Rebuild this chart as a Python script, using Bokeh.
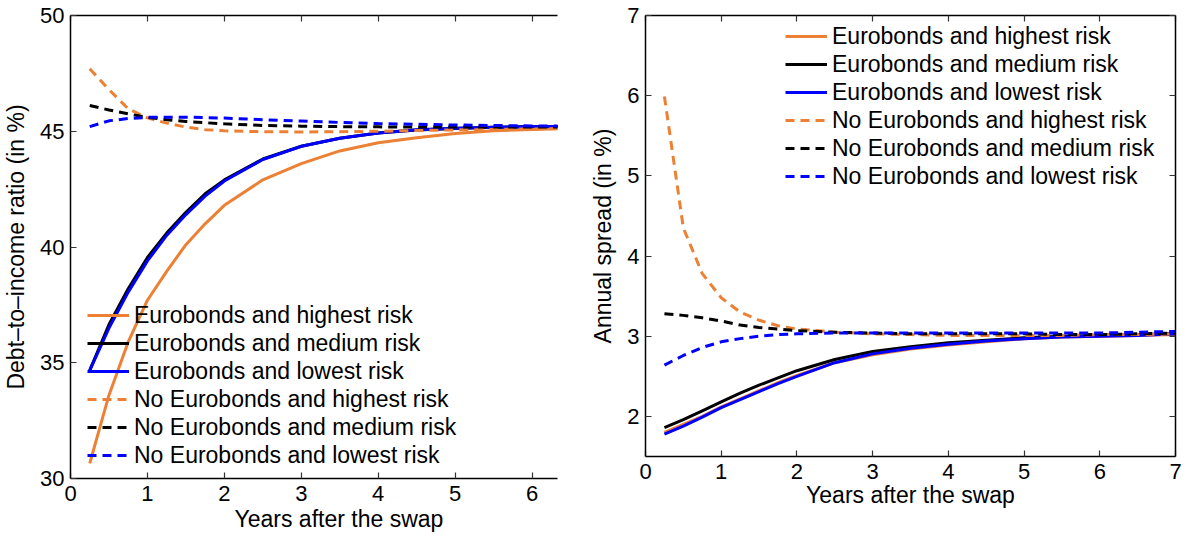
from bokeh.plotting import figure
from bokeh.models import LinearAxis, Range1d, Legend, LegendItem, FixedTicker, Title
from bokeh.layouts import row, column
from bokeh.embed import file_html
from bokeh.resources import INLINE

# ---------------- data ----------------
years = [0.25, 0.5, 0.75, 1.0, 1.25, 1.5, 1.75, 2.0, 2.5, 3.0, 3.5, 4.0, 4.5, 5.0, 5.5, 6.0, 6.5, 7.0]

labels = ["Eurobonds and highest risk", "Eurobonds and medium risk", "Eurobonds and lowest risk",
          "No Eurobonds and highest risk", "No Eurobonds and medium risk", "No Eurobonds and lowest risk"]

# Debt-to-income ratio (in %)
debt_euro_high = [30.65, 33.6, 35.9, 37.7, 38.95, 40.1, 41.0, 41.8, 42.9, 43.6, 44.15, 44.5, 44.72, 44.9, 45.02, 45.08, 45.12, 45.15]
debt_euro_med = [34.67, 36.65, 38.2, 39.55, 40.6, 41.5, 42.3, 42.9, 43.8, 44.35, 44.7, 44.92, 45.05, 45.12, 45.17, 45.2, 45.2, 45.2]
debt_euro_low = [34.67, 36.5, 38.05, 39.4, 40.5, 41.4, 42.2, 42.85, 43.78, 44.35, 44.7, 44.92, 45.06, 45.13, 45.17, 45.2, 45.2, 45.2]
debt_noeuro_high = [47.7, 46.8, 45.97, 45.58, 45.35, 45.18, 45.07, 45.02, 44.98, 44.97, 44.98, 45.0, 45.03, 45.06, 45.08, 45.1, 45.12, 45.13]
debt_noeuro_med = [46.11, 45.92, 45.75, 45.6, 45.5, 45.42, 45.37, 45.32, 45.25, 45.22, 45.2, 45.19, 45.18, 45.18, 45.18, 45.18, 45.18, 45.18]
debt_noeuro_low = [45.2, 45.45, 45.55, 45.6, 45.61, 45.61, 45.59, 45.57, 45.5, 45.44, 45.38, 45.33, 45.3, 45.27, 45.25, 45.23, 45.22, 45.22]

# Annual spread (in %)
spread_euro_high = [1.80, 1.90, 2.00, 2.12, 2.22, 2.32, 2.42, 2.51, 2.67, 2.77, 2.84, 2.89, 2.93, 2.97, 2.99, 3.0, 3.01, 3.02]
spread_euro_med = [1.86, 1.96, 2.07, 2.18, 2.29, 2.39, 2.48, 2.57, 2.71, 2.81, 2.87, 2.92, 2.95, 2.98, 3.0, 3.01, 3.02, 3.03]
spread_euro_low = [1.78, 1.88, 1.99, 2.11, 2.21, 2.31, 2.41, 2.50, 2.67, 2.78, 2.85, 2.9, 2.94, 2.97, 2.99, 3.0, 3.01, 3.03]
spread_noeuro_high = [5.99, 4.35, 3.78, 3.48, 3.3, 3.2, 3.13, 3.09, 3.05, 3.03, 3.02, 3.01, 3.01, 3.01, 3.01, 3.02, 3.02, 3.03]
spread_noeuro_med = [3.28, 3.26, 3.23, 3.19, 3.14, 3.11, 3.09, 3.07, 3.05, 3.04, 3.03, 3.03, 3.03, 3.03, 3.02, 3.02, 3.03, 3.04]
spread_noeuro_low = [2.64, 2.76, 2.86, 2.93, 2.97, 3.0, 3.02, 3.03, 3.04, 3.04, 3.04, 3.04, 3.04, 3.04, 3.04, 3.04, 3.05, 3.06]

left_xticks = [0, 1, 2, 3, 4, 5, 6]
left_yticks = [30, 35, 40, 45, 50]
right_xticks = [0, 1, 2, 3, 4, 5, 6, 7]
right_yticks = [2, 3, 4, 5, 6, 7]
xlabel = "Years after the swap"

# ---------------- styling ----------------
ORANGE = "#EC8034"
BLUE = "#0000FF"
BLACK = "#000000"
colors = [ORANGE, BLACK, BLUE, ORANGE, BLACK, BLUE]
dashes = ["solid", "solid", "solid", "9 6", "9 6", "9 6"]
FONT = "Liberation Sans"


def style_axis(ax, ticks, show_labels=True):
    ax.ticker = FixedTicker(ticks=ticks)
    ax.major_tick_in = 6
    ax.major_tick_out = 0
    ax.minor_tick_in = 0
    ax.minor_tick_out = 0
    ax.axis_line_width = 1.5
    ax.axis_line_color = "black"
    ax.major_tick_line_width = 1.2
    ax.major_tick_line_color = "#333333"
    ax.major_label_text_font = FONT
    if show_labels:
        ax.major_label_text_font_size = "22px"
        ax.major_label_text_color = "black"
    else:
        ax.major_label_text_font_size = "0px"
        ax.major_label_text_color = None
        ax.major_label_standoff = 0
    ax.axis_label_text_font = FONT
    ax.axis_label_text_font_size = "23px"
    ax.axis_label_text_font_style = "normal"
    ax.axis_label_text_color = "black"


def make_panel(series, xr, yr, xticks, yticks, ylabel, width, mb_left, mb_right, mb_bottom,
               right_axis, legend_loc, xlabel_offset=None):
    p = figure(width=width, height=538, x_range=Range1d(*xr), y_range=Range1d(*yr),
               output_backend="svg", toolbar_location=None,
               min_border_left=mb_left, min_border_right=mb_right,
               min_border_top=15, min_border_bottom=mb_bottom)
    p.grid.visible = False
    p.outline_line_color = None
    p.background_fill_color = "white"
    p.border_fill_color = "white"
    style_axis(p.xaxis[0], xticks)
    style_axis(p.yaxis[0], yticks)
    p.xaxis[0].major_label_standoff = 7
    p.xaxis[0].axis_label_standoff = 0
    if xlabel_offset is None:
        p.xaxis[0].axis_label = xlabel
    else:
        # the original axis continued past the crop, so its title sits right of the frame centre
        t = Title(text=xlabel, align="left", offset=xlabel_offset, standoff=0,
                  text_font=FONT, text_font_size="23px", text_font_style="normal",
                  text_color="black")
        p.add_layout(t, "below")
    p.yaxis[0].axis_label = ylabel
    p.yaxis[0].major_label_standoff = 6
    p.yaxis[0].axis_label_standoff = 8
    top = LinearAxis()
    style_axis(top, xticks, show_labels=False)
    p.add_layout(top, "above")
    if right_axis:
        rax = LinearAxis()
        style_axis(rax, yticks, show_labels=False)
        p.add_layout(rax, "right")

    items = []
    for lab, ys, c, d in zip(labels, series, colors, dashes):
        r = p.line(years, ys, line_color=c, line_width=3, line_dash=d)
        items.append(LegendItem(label=lab, renderers=[r]))
    leg = Legend(items=items, location=legend_loc,
                 label_text_font=FONT, label_text_font_size="23px", label_text_color="black",
                 glyph_width=42, glyph_height=28, label_height=28, spacing=0,
                 padding=0, margin=0, label_standoff=5,
                 background_fill_alpha=0, border_line_alpha=0)
    p.add_layout(leg)
    return p


left = make_panel([debt_euro_high, debt_euro_med, debt_euro_low,
                   debt_noeuro_high, debt_noeuro_med, debt_noeuro_low],
                  (0, 6.33), (30, 50), left_xticks, left_yticks,
                  "Debt\u2013to\u2013income ratio (in %)", 585, 69, 28, 60, False, (17, 9),
                  xlabel_offset=164)

right = make_panel([spread_euro_high, spread_euro_med, spread_euro_low,
                    spread_noeuro_high, spread_noeuro_med, spread_noeuro_low],
                   (0, 7), (1.5, 7), right_xticks, right_yticks,
                   "Annual spread (in %)", 603, 60, 13, 82, True, (140, 266))

layout = row(column(left), column(right))
open("out.html", "w").write(file_html(layout, INLINE))
